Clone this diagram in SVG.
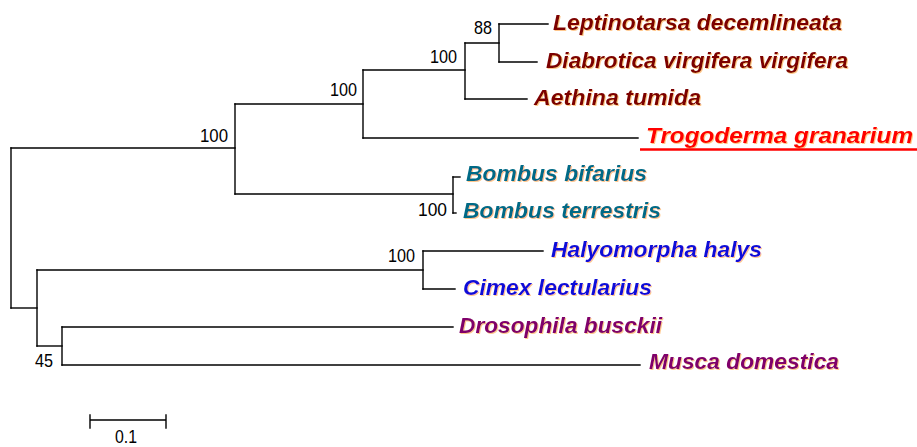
<svg xmlns="http://www.w3.org/2000/svg" width="917" height="447" viewBox="0 0 917 447">
<style>
.br{stroke:#000;stroke-width:1.4;fill:none;stroke-linecap:square}
.tx{font-family:"Liberation Sans",Arial,sans-serif;font-weight:bold;font-style:italic;font-size:22px;filter:url(#sh)}
.bs{font-family:"Liberation Sans",Arial,sans-serif;font-size:19px;fill:#000}
.beetle{fill:#7c0000}
.bee{fill:#006a86}
.bug{fill:#1010d8}
.fly{fill:#80006a}
.tg{fill:#ff0000}
</style>
<defs>
<filter id="sh" x="-5%" y="-20%" width="110%" height="140%">
<feDropShadow dx="1" dy="1" stdDeviation="0.6" flood-color="#ff9a30" flood-opacity="0.55"/>
</filter>
</defs>
<rect width="917" height="447" fill="#fff"/>
<g id="connectors">
<path class="br" d="M11,148 V308"/>
<path class="br" d="M11,148 H235"/>
<path class="br" d="M11,308 H37"/>
<path class="br" d="M235,104 V194"/>
<path class="br" d="M235,104 H363"/>
<path class="br" d="M235,194 H453"/>
<path class="br" d="M363,70 V138"/>
<path class="br" d="M363,70 H465"/>
<path class="br" d="M363,138 H638"/>
<path class="br" d="M465,43 V99"/>
<path class="br" d="M465,43 H499"/>
<path class="br" d="M465,99 H527"/>
<path class="br" d="M499,24 V62"/>
<path class="br" d="M499,24 H548"/>
<path class="br" d="M499,62 H537"/>
<path class="br" d="M453,177 V213"/>
<path class="br" d="M453,177 H460"/>
<path class="br" d="M453,213 H456"/>
<path class="br" d="M37,270 V346"/>
<path class="br" d="M37,270 H423"/>
<path class="br" d="M37,346 H62"/>
<path class="br" d="M423,251 V289"/>
<path class="br" d="M423,251 H543"/>
<path class="br" d="M423,289 H455"/>
<path class="br" d="M62,327 V365"/>
<path class="br" d="M62,327 H453"/>
<path class="br" d="M62,365 H640"/>
</g>
<g id="bootstrap">
<text class="bs" x="200" y="142" textLength="28" lengthAdjust="spacingAndGlyphs">100</text>
<text class="bs" x="330" y="96" textLength="27" lengthAdjust="spacingAndGlyphs">100</text>
<text class="bs" x="430" y="63" textLength="27" lengthAdjust="spacingAndGlyphs">100</text>
<text class="bs" x="474" y="34" textLength="18" lengthAdjust="spacingAndGlyphs">88</text>
<text class="bs" x="418" y="216" textLength="29" lengthAdjust="spacingAndGlyphs">100</text>
<text class="bs" x="388" y="262" textLength="27" lengthAdjust="spacingAndGlyphs">100</text>
<text class="bs" x="35" y="367" textLength="18" lengthAdjust="spacingAndGlyphs">45</text>
</g>
<g id="leaf-leptinotarsa"><text class="tx beetle" x="553" y="30" textLength="289" lengthAdjust="spacingAndGlyphs">Leptinotarsa decemlineata</text></g>
<g id="leaf-diabrotica"><text class="tx beetle" x="546" y="68" textLength="302" lengthAdjust="spacingAndGlyphs">Diabrotica virgifera virgifera</text></g>
<g id="leaf-aethina"><text class="tx beetle" x="534" y="105" textLength="167" lengthAdjust="spacingAndGlyphs">Aethina tumida</text></g>
<g id="leaf-trogoderma">
<text class="tx tg" x="646" y="143" textLength="267" lengthAdjust="spacingAndGlyphs">Trogoderma granarium</text>
<line x1="640" y1="149.5" x2="917" y2="149.5" stroke="#ff0000" stroke-width="2.5"/>
</g>
<g id="leaf-bombus-bifarius"><text class="tx bee" x="466" y="181" textLength="181" lengthAdjust="spacingAndGlyphs">Bombus bifarius</text></g>
<g id="leaf-bombus-terrestris"><text class="tx bee" x="463" y="218" textLength="198" lengthAdjust="spacingAndGlyphs">Bombus terrestris</text></g>
<g id="leaf-halyomorpha"><text class="tx bug" x="551" y="257" textLength="211" lengthAdjust="spacingAndGlyphs">Halyomorpha halys</text></g>
<g id="leaf-cimex"><text class="tx bug" x="463" y="295" textLength="189" lengthAdjust="spacingAndGlyphs">Cimex lectularius</text></g>
<g id="leaf-drosophila"><text class="tx fly" x="459" y="333" textLength="203" lengthAdjust="spacingAndGlyphs">Drosophila busckii</text></g>
<g id="leaf-musca"><text class="tx fly" x="649" y="369" textLength="190" lengthAdjust="spacingAndGlyphs">Musca domestica</text></g>
<g id="scale-bar">
<path class="br" d="M90,420 H166 M90,415 V428 M166,415 V428"/>
<text class="bs" x="115" y="443" textLength="22" lengthAdjust="spacingAndGlyphs">0.1</text>
</g>
</svg>
